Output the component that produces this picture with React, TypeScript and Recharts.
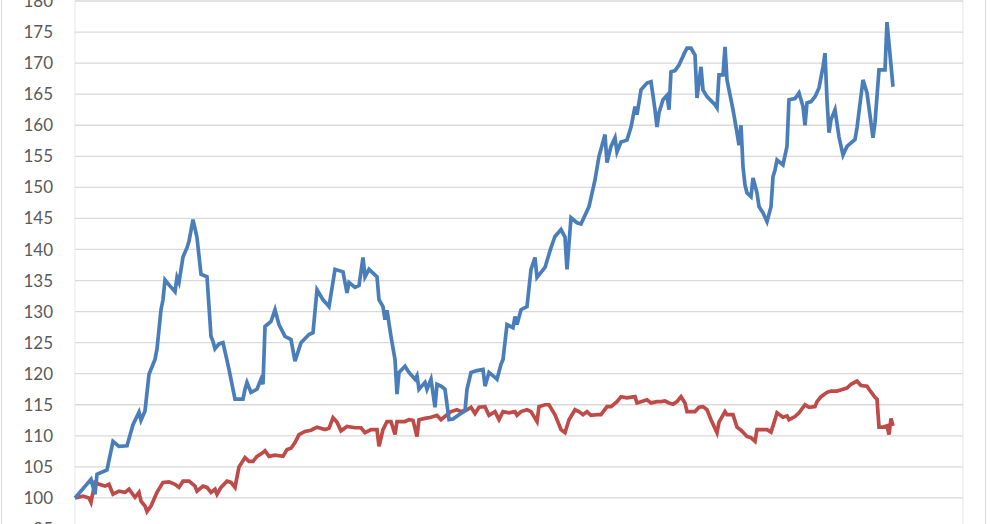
import { LineChart, Line, XAxis, YAxis, CartesianGrid } from "recharts"

// x = trading step (2 steps ~ one day-ish), 37 steps per month gridline
const blueSteps = [
  0, 8, 10, 11, 16, 19, 22, 26, 29, 32, 33, 35, 37, 40, 41, 43, 44, 45, 47, 50, 51, 52, 54, 56, 57, 59, 61, 63, 66, 68,
  69, 70, 72, 74, 77, 80, 84, 85, 86, 88, 91, 93, 94, 95, 98, 100, 102, 105, 108, 110, 112, 113, 117, 119, 121, 124,
  126, 127, 130, 134, 136, 137, 140, 142, 144, 145, 147, 151, 152, 154, 155, 156, 158, 160, 161, 162, 165, 167, 170,
  171, 172, 175, 176, 178, 180, 181, 183, 185, 187, 189, 192, 195, 196, 198, 201, 204, 205, 207, 210, 211, 213, 214,
  216, 219, 220, 221, 223, 226, 228, 230, 231, 235, 238, 240, 243, 245, 246, 248, 251, 253, 257, 260, 262, 265, 266,
  268, 270, 271, 273, 276, 278, 280, 281, 283, 286, 288, 290, 291, 292, 294, 296, 297, 298, 300, 302, 305, 306, 308,
  310, 311, 313, 314, 316, 320, 321, 322, 324, 325, 326, 329, 331, 332, 333, 334, 335, 336, 338, 339, 341, 342, 344,
  346, 348, 349, 350, 351, 354, 356, 357, 360, 362, 364, 365, 366, 368, 370, 372, 374, 375, 376, 377, 378, 380, 382,
  384, 386, 390, 391, 394, 396, 399, 400, 402, 405, 406, 409,
]
const blueValues = [
  100, 103, 100.6, 103.8, 104.5, 109.1, 108.3, 108.4, 111.8, 113.8, 112.5, 114, 119.9, 122.3, 124, 130.3, 131.9, 135.1,
  134.3, 133.2, 135.5, 134.7, 138.8, 140.3, 141.3, 144.8, 141.9, 136, 135.6, 126, 125.2, 124, 124.8, 125, 120.7, 115.9,
  115.9, 117.5, 118.6, 117, 117.5, 119.1, 118.3, 127.6, 128.4, 130.3, 127.9, 126, 125.5, 122, 124, 125, 126.3, 126.6,
  133.5, 131.9, 131.2, 130.8, 136.8, 136.4, 133, 134.7, 133.9, 134.2, 138.7, 135.6, 136.8, 135.6, 131.9, 130.8, 128.7,
  130.2, 126, 122.3, 116.7, 120.2, 121.2, 120.2, 119.1, 119.7, 117.5, 118.6, 117.5, 119.1, 114.6, 118.3, 118, 117.5,
  112.6, 112.7, 113.4, 114, 117.5, 120.2, 120.5, 120.7, 118, 120.2, 119.4, 119.1, 121.5, 122.3, 127.9, 127.4, 129.2,
  127.9, 130.3, 130.8, 136.8, 138.7, 135.5, 137.1, 140.3, 142.1, 143.2, 142, 136.8, 145.1, 144.3, 144.1, 146.9, 151.2,
  155, 158.5, 154, 156.6, 158, 155.7, 157.3, 157.6, 159.7, 163, 161.7, 165.7, 166.8, 167, 162.5, 159.7, 162, 164.1,
  164.8, 162.5, 168.6, 168.8, 169.7, 171.8, 172.4, 172.4, 171.3, 164.4, 169.4, 165.7, 164.6, 163.3, 162.8, 168.1,
  168.1, 172.6, 167.3, 162.5, 158.8, 156.8, 160, 153.3, 150.4, 149.1, 148.5, 151.5, 149.1, 146.9, 145.9, 144.5, 146.9,
  151.7, 152.8, 154.4, 153.6, 156.6, 164.1, 164.3, 165.2, 163, 160, 163.6, 163.8, 164.6, 166, 169.4, 171.6, 164.1,
  158.8, 160.9, 162.5, 158.1, 155.2, 156.6, 157.7, 159.6, 167.3, 165.2, 158, 160.4, 168.9, 168.9, 176.6, 166.2,
]

const redSteps = [
  0, 4, 7, 8, 10, 12, 15, 17, 19, 22, 25, 27, 30, 32, 33, 35, 36, 38, 41, 44, 47, 50, 52, 54, 57, 60, 61, 64, 66, 68,
  70, 71, 73, 76, 78, 80, 82, 85, 87, 89, 91, 94, 95, 97, 100, 104, 106, 108, 110, 112, 115, 118, 121, 125, 127, 129,
  131, 133, 136, 140, 143, 145, 148, 151, 152, 154, 156, 158, 160, 161, 165, 167, 169, 171, 172, 175, 178, 181, 183,
  186, 188, 191, 193, 196, 198, 200, 202, 205, 207, 210, 212, 214, 217, 220, 221, 223, 226, 228, 231, 232, 235, 237,
  240, 243, 245, 247, 250, 252, 254, 256, 258, 261, 263, 266, 268, 271, 273, 276, 280, 281, 283, 286, 288, 291, 293,
  295, 297, 299, 301, 303, 305, 306, 310, 312, 314, 316, 318, 321, 322, 325, 326, 329, 331, 333, 336, 338, 340, 341,
  344, 346, 348, 350, 351, 354, 356, 357, 360, 362, 365, 367, 370, 371, 373, 376, 378, 381, 384, 386, 388, 391, 393,
  396, 397, 400, 401, 402, 404, 406, 407, 408, 409,
]
const redValues = [
  100, 100.3, 100, 99.3, 102.5, 102.2, 101.9, 102.2, 100.6, 101.1, 100.9, 101.4, 100.1, 100.9, 99.5, 98.7, 97.8, 98.7,
  100.9, 102.5, 102.6, 102.2, 101.7, 102.7, 102.7, 101.9, 101.1, 101.9, 101.7, 100.9, 101.4, 100.6, 101.7, 102.7,
  102.5, 101.7, 105, 106.5, 105.9, 105.9, 106.7, 107.3, 107.6, 106.7, 106.9, 106.7, 107.8, 108, 108.9, 110.2, 110.7,
  110.9, 111.4, 111, 111.2, 112.9, 112.2, 110.8, 111.5, 111.3, 111.3, 110.5, 111, 111, 108.3, 111, 112.3, 112.3, 110.2,
  112.3, 112.3, 112.6, 112.5, 109.9, 112.6, 112.8, 113, 113.3, 112.6, 113.4, 113.9, 114.2, 113.9, 114.2, 114.6, 113.6,
  114.6, 114.7, 113.3, 113.9, 112.6, 113.9, 113.7, 113.9, 113.3, 113.9, 114.2, 113.9, 112.3, 114.7, 115, 115, 113.4,
  111, 110.5, 112.6, 114.2, 113.9, 113.4, 113.9, 113.3, 113.4, 113.4, 114.7, 114.7, 115.5, 116.3, 116.1, 116.3, 115.3,
  115.5, 115.8, 115.3, 115.5, 115.5, 115.6, 115.3, 115.1, 115.5, 116.3, 115.3, 113.9, 113.9, 114.6, 114.7, 114.2,
  112.6, 110.5, 112.2, 113.9, 113.4, 113.4, 111.4, 110.9, 109.9, 109.7, 109.1, 111, 111, 111, 110.6, 112.6, 113.7, 113,
  113.2, 112.6, 113.1, 113.7, 115, 114.6, 114.7, 115.5, 116.3, 117, 117.2, 117.2, 117.5, 117.7, 118.3, 118.8, 118.1,
  118, 117.5, 116.2, 115.9, 111.4, 111.4, 111.6, 110.2, 112.8, 111.6,
]

const yTicks = [95, 100, 105, 110, 115, 120, 125, 130, 135, 140, 145, 150, 155, 160, 165, 170, 175, 180]
const monthTicks = [0, 37, 74, 111, 148, 185, 222, 259, 296, 333, 370, 407, 444]

const blueData = blueSteps.map((s, i) => ({ step: s, value: blueValues[i] }))
const redData = redSteps.map((s, i) => ({ step: s, value: redValues[i] }))

export default function App() {
  return (
    <div style={{ position: "absolute", left: 0, top: 0, width: 991, height: 524, overflow: "hidden", background: "#fff" }}>
      <div
        style={{
          position: "absolute",
          left: 1,
          top: 0,
          width: 983,
          height: 600,
          borderLeft: "1px solid #d9d9d9",
          borderRight: "1px solid #d9d9d9",
        }}
      />
      <div style={{ position: "absolute", left: 0, top: 0 }}>
        <LineChart width={991} height={560} margin={{ top: 1, right: 28, bottom: 30, left: 0 }}>
          <CartesianGrid horizontal={false} stroke="#ececec" strokeWidth={1.3} />
          <CartesianGrid vertical={false} stroke="#d9d9d9" strokeWidth={1.3} />
          <XAxis
            dataKey="step"
            type="number"
            domain={[0, 444]}
            ticks={monthTicks}
            allowDuplicatedCategory={false}
            tick={false}
            tickLine={false}
            axisLine={false}
            height={1}
          />
          <YAxis
            type="number"
            domain={[95, 180]}
            ticks={yTicks}
            interval={0}
            width={75}
            axisLine={false}
            tickLine={false}
            tickMargin={16}
            tick={{ fill: "#595959", fontSize: 17, fontFamily: "Lato, 'Open Sans', sans-serif" }}
          />
          <Line
            data={redData}
            dataKey="value"
            type="linear"
            stroke="#be4b48"
            strokeWidth={3.7}
            dot={false}
            isAnimationActive={false}
          />
          <Line
            data={blueData}
            dataKey="value"
            type="linear"
            stroke="#4a7ebb"
            strokeWidth={3.7}
            dot={false}
            isAnimationActive={false}
          />
        </LineChart>
      </div>
    </div>
  )
}
